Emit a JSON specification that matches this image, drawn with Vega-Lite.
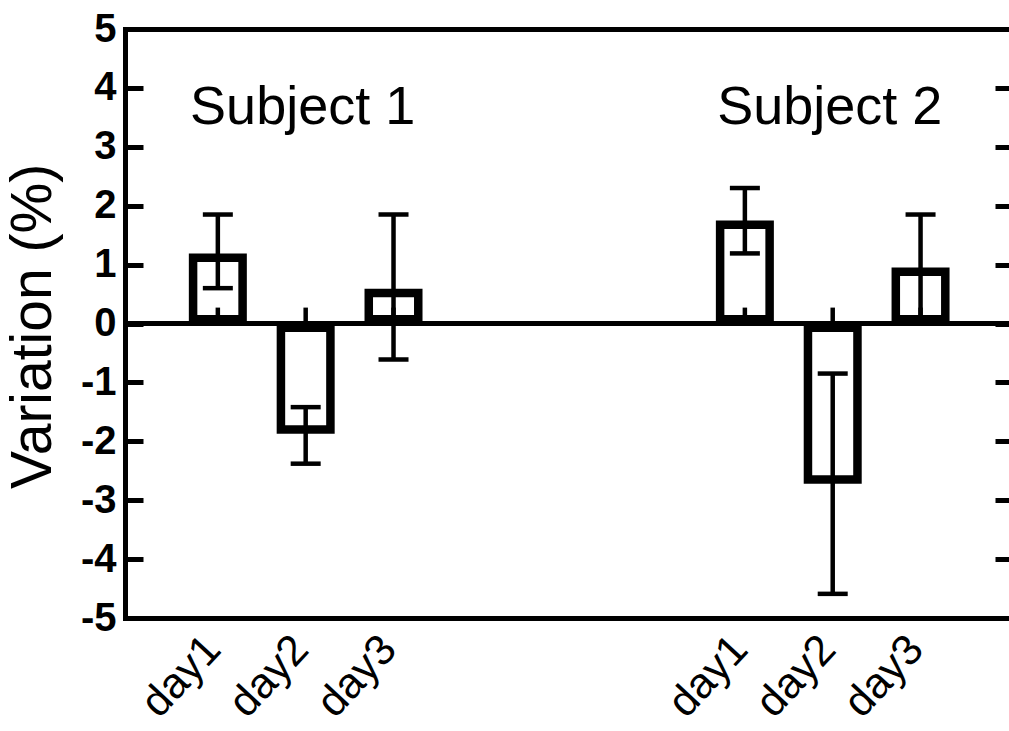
{
  "$schema": "https://vega.github.io/schema/vega-lite/v6.json",
  "width": 884,
  "height": 589,
  "autosize": "none",
  "padding": {"left": 125, "top": 29, "right": 0, "bottom": 113},
  "background": "white",
  "config": {
    "view": {"stroke": null},
    "font": "Liberation Sans",
    "axis": {"grid": false, "domainColor": "black", "tickColor": "black", "labelColor": "black", "titleColor": "black", "domainCap": "square"}
  },
  "datasets": {
    "bars": [
      {"subject": "Subject 1", "day": "day1", "x": 1, "value": 1.19, "lo": 0.6, "hi": 1.85, "base_err": 0.27},
      {"subject": "Subject 1", "day": "day2", "x": 2, "value": -1.87, "lo": -2.38, "hi": -1.42, "base_err": 0.27},
      {"subject": "Subject 1", "day": "day3", "x": 3, "value": 0.59, "lo": -0.61, "hi": 1.85, "base_err": 0.27},
      {"subject": "Subject 2", "day": "day1", "x": 7, "value": 1.75, "lo": 1.19, "hi": 2.3, "base_err": 0.27},
      {"subject": "Subject 2", "day": "day2", "x": 8, "value": -2.72, "lo": -4.59, "hi": -0.85, "base_err": 0.27},
      {"subject": "Subject 2", "day": "day3", "x": 9, "value": 0.95, "lo": 0.05, "hi": 1.85, "base_err": 0.27}
    ],
    "subjects": [
      {"subject": "Subject 1", "x": 2, "zero": 0},
      {"subject": "Subject 2", "x": 8, "zero": 0}
    ]
  },
  "data": {"name": "bars"},
  "resolve": {"scale": {"x": "shared", "y": "shared"}, "axis": {"x": "independent", "y": "independent"}},
  "layer": [
    {
      "mark": {"type": "bar", "size": 58, "fill": "black"},
      "encoding": {
        "x": {"field": "x", "type": "quantitative",
          "scale": {"domain": [0, 9.95], "nice": false, "zero": false},
          "axis": {"orient": "bottom", "values": [1, 2, 3, 7, 8, 9], "ticks": false, "domainWidth": 5,
            "labelExpr": "(datum.value == 1 || datum.value == 7) ? 'day1' : (datum.value == 2 || datum.value == 8) ? 'day2' : 'day3'",
            "labelAngle": -47, "labelAlign": "right", "labelBaseline": "middle", "labelFontSize": 43, "labelPadding": 24, "labelOffset": -5,
            "labelOverlap": false, "labelFlush": false, "title": null}},
        "y": {"field": "value", "type": "quantitative",
          "scale": {"domain": [-5, 5], "nice": false, "zero": false},
          "axis": {"orient": "left", "values": [-5, -4, -3, -2, -1, 0, 1, 2, 3, 4, 5], "tickSize": -18, "tickWidth": 5,
            "labelExpr": "toString(datum.value)",
            "domainWidth": 5, "labelPadding": 27, "labelFontSize": 40, "labelFontWeight": "bold", "labelOverlap": false,
            "title": "Variation (%)", "titleFontSize": 57, "titleFontWeight": "normal", "titleX": -63, "titleY": 297,
            "titleAngle": -90, "titleAlign": "center", "titleBaseline": "bottom"}},
        "y2": {"datum": 0}
      }
    },
    {
      "transform": [{"filter": "datum.value > 0"}],
      "mark": {"type": "bar", "size": 41, "fill": "white", "yOffset": 8.5, "y2Offset": -8.5},
      "encoding": {
        "x": {"field": "x", "type": "quantitative", "axis": null},
        "y": {"field": "value", "type": "quantitative", "axis": null},
        "y2": {"datum": 0}
      }
    },
    {
      "transform": [{"filter": "datum.value < 0"}],
      "mark": {"type": "bar", "size": 41, "fill": "white", "yOffset": -8.5, "y2Offset": 8.5},
      "encoding": {
        "x": {"field": "x", "type": "quantitative", "axis": null},
        "y": {"field": "value", "type": "quantitative", "axis": null},
        "y2": {"datum": 0}
      }
    },
    {
      "data": {"name": "subjects"},
      "mark": {"type": "rule", "color": "black", "strokeWidth": 5},
      "encoding": {"y": {"field": "zero", "type": "quantitative", "axis": null}}
    },
    {
      "mark": {"type": "rule", "color": "black", "strokeWidth": 4.5},
      "encoding": {
        "x": {"field": "x", "type": "quantitative", "axis": null},
        "y": {"field": "lo", "type": "quantitative", "axis": null},
        "y2": {"field": "hi"}
      }
    },
    {
      "mark": {"type": "tick", "orient": "horizontal", "size": 30, "thickness": 4.5, "color": "black", "opacity": 1},
      "encoding": {
        "x": {"field": "x", "type": "quantitative", "axis": null},
        "y": {"field": "hi", "type": "quantitative", "axis": null}
      }
    },
    {
      "mark": {"type": "tick", "orient": "horizontal", "size": 30, "thickness": 4.5, "color": "black", "opacity": 1},
      "encoding": {
        "x": {"field": "x", "type": "quantitative", "axis": null},
        "y": {"field": "lo", "type": "quantitative", "axis": null}
      }
    },
    {
      "mark": {"type": "rule", "color": "black", "strokeWidth": 4.5},
      "encoding": {
        "x": {"field": "x", "type": "quantitative",
          "axis": {"orient": "top", "ticks": false, "labels": false, "domainWidth": 5, "title": null}},
        "y": {"field": "base_err", "type": "quantitative",
          "axis": {"orient": "right", "values": [-5, -4, -3, -2, -1, 0, 1, 2, 3, 4, 5], "domain": false, "labels": false,
            "tickSize": -14, "tickWidth": 5, "title": null}},
        "y2": {"datum": 0}
      }
    },
    {
      "data": {"name": "subjects"},
      "mark": {"type": "text", "fontSize": 54, "color": "black", "align": "center", "baseline": "alphabetic", "dx": -3},
      "encoding": {
        "x": {"field": "x", "type": "quantitative", "axis": null},
        "y": {"datum": 3.39, "type": "quantitative", "axis": null},
        "text": {"field": "subject"}
      }
    }
  ]
}
